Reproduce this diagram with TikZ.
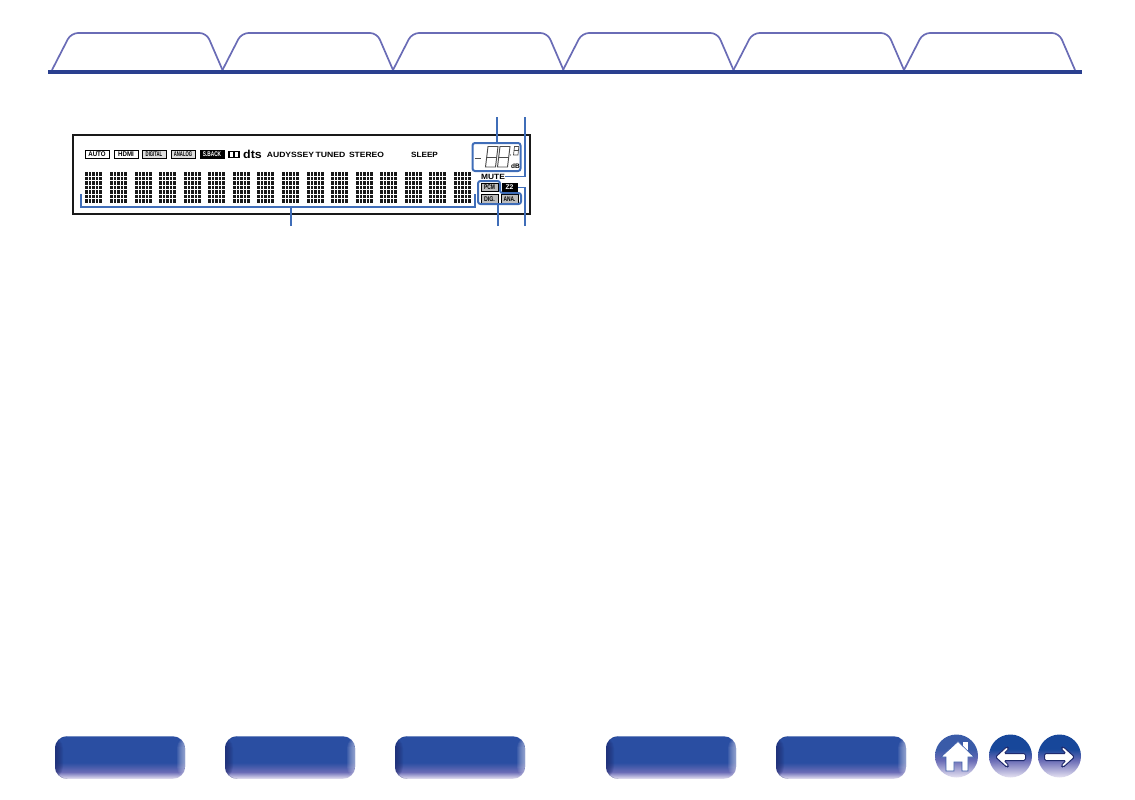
\documentclass[tikz,border=0pt]{standalone}
\usepackage{graphicx}
\usepackage{fontspec}
\setmainfont{Liberation Sans}
\usetikzlibrary{calc}
\definecolor{tabline}{HTML}{6A6CB6}
\definecolor{tabbar}{HTML}{2A3F8F}
\definecolor{callout}{HTML}{3F6DB8}
\definecolor{lcdgray}{HTML}{BDBDBD}
\definecolor{btnmid}{HTML}{2A4EA2}
\definecolor{btndark}{HTML}{1F2A6E}
\definecolor{btnlight}{HTML}{E6E2F2}
\definecolor{homeblue}{HTML}{3A5BA8}
\definecolor{roundblue}{HTML}{17479A}
\pgfdeclareverticalshading{btnshade}{100bp}{color(0bp)=(btnlight); color(25bp)=(btnlight); color(33bp)=(tabline); color(44bp)=(btnmid); color(75bp)=(btnmid); color(100bp)=(btnmid)}
\pgfdeclareverticalshading{homeshade}{100bp}{color(0bp)=(btnlight); color(25bp)=(btnlight); color(45bp)=(tabline); color(58bp)=(homeblue); color(75bp)=(homeblue); color(100bp)=(homeblue)}
\pgfdeclareverticalshading{roundshade}{100bp}{color(0bp)=(btnlight); color(25bp)=(btnlight); color(45bp)=(tabline); color(58bp)=(roundblue); color(75bp)=(roundblue); color(100bp)=(roundblue)}
\newcommand{\squeezed}[2]{\scalebox{#1}[1]{#2}}
\tikzset{
  % line styles
  tabedge/.style={draw=tabline,line width=1.7pt,line join=round},
  lead/.style={draw=callout,line width=1.7pt},
  leadbox/.style={lead,line width=2pt,rounded corners=2.5pt},
  segment/.style={draw=black!70,line width=0.95pt},
  % node styles
  lcdtext/.style={inner sep=0pt,font=\fontsize{7.6}{8}\bfseries\selectfont},
  tag/.style={draw=black,line width=1pt,inner sep=0pt,minimum width=24pt,minimum height=8pt,font=\fontsize{6.8}{7}\bfseries\selectfont},
  solidtag/.style={tag,fill=black,text=white},
  graytag/.style={tag,fill=lcdgray,minimum width=17pt,minimum height=8.5pt},
  pagebtn/.style={shape=rectangle,rounded corners=12pt,minimum width=130pt,minimum height=42.5pt,inner sep=0pt,shading=btnshade,
    path picture={
      \foreach \w in {1,...,8}{
        \fill[btndark,opacity=0.14] (path picture bounding box.south west) rectangle ($(path picture bounding box.north west)+(\w pt,0)$);
        \fill[btnlight,opacity=0.09] (path picture bounding box.south east) rectangle ($(path picture bounding box.north east)+(-\w pt,0)$);
      }
    }},
  homebtn/.style={circle,minimum size=43pt,inner sep=0pt,shading=homeshade},
  roundbtn/.style={circle,minimum size=43pt,inner sep=0pt,shading=roundshade},
  navarrow/.style={fill=white,draw=btndark,line width=1pt,rounded corners=1.5pt},
}
\begin{document}
\begin{tikzpicture}[x=1pt,y=-1pt]
        \useasboundingbox (0,0) rectangle (1135,800);
        % Tabs
        \foreach \tabx in {52,222.5,393,563,733.5}{
            \draw[tabedge,rounded corners=7pt] (\tabx,70) -- (\tabx+19,33) -- (\tabx+154.5,33) -- (\tabx+170.5,70);
        }
        \draw[tabedge,rounded corners=7pt] (904,70) -- (923,33) -- (1059,33) -- (1075,70);
        \fill[tabbar] (48,70) rectangle (1082,74);
        % Display frame
        \draw[black!90,line width=2pt] (525,135) -- (73,135) -- (73,214) -- (529.5,214) -- (529.5,135) -- (525,135);
        % Upper indicators
        \node(auto)[tag] at(97,154.5){\squeezed{0.9}{AUTO}};
        \node(hdmi)[tag] at(126,154.5){\squeezed{0.9}{HDMI}};
        \node(digital)[tag,fill=lcdgray!50] at(154,154.5){\squeezed{0.62}{DIGITAL}};
        \node(analog)[tag,fill=lcdgray!50] at(183,154.5){\squeezed{0.62}{ANALOG}};
        \node(sback)[solidtag] at(212,154.5){\squeezed{0.7}{S.BACK}};
        \node(dolby)[draw=black,line width=1.4pt,inner sep=0pt,minimum width=10pt,minimum height=6pt] at(234,154.5){};
        \draw[black,line width=1.4pt] (dolby.north) -- (dolby.south);
        \node(dts)[lcdtext,font=\fontsize{11.5}{12}\bfseries\selectfont] at(252.5,154){\squeezed{1.08}{dts}};
        \node(audyssey)[lcdtext] at(290.5,155){\squeezed{1.13}{AUDYSSEY}};
        \node(tuned)[lcdtext] at(330.5,155){\squeezed{1.14}{TUNED}};
        \node(stereo)[lcdtext] at(366.5,155){\squeezed{1.12}{STEREO}};
        \node(sleep)[lcdtext] at(424.5,155){\squeezed{1.08}{SLEEP}};
        % Dot matrix characters
        \foreach \charx in {85,110,135,159,184,208,233,257,282,307,331,356,380,405,429,454}{
            \foreach \i in {0,...,4}{
                \foreach \j in {0,...,6}{
                    \fill[black!90] (\charx+\i*3.55,172.2+\j*4.5) rectangle +(2.7,3.5);
                }
            }
        }
        % Level display
        \node(level)[leadbox,minimum width=48pt,minimum height=28pt,inner sep=0pt] at(496.5,157){};
        \draw[segment,line width=1.2pt] (474.5,158.5) -- (481,158.5);
        \foreach \digx in {0,12}{
            \draw[segment] (488+\digx,146.5) -- (498+\digx,146.5) -- (495.5+\digx,167) -- (485.5+\digx,167) -- cycle;
            \draw[segment] (486.8+\digx,157) -- (496.8+\digx,157);
        }
        \draw[segment,line width=0.7pt] (514.5,146.5) -- (518.8,146.5) -- (518,155) -- (513.5,155) -- cycle;
        \draw[segment,line width=0.7pt] (514,150.7) -- (518.4,150.7);
        \fill[black!75] (510.5,155) circle (0.7pt);
        \node(db)[lcdtext,font=\fontsize{6.5}{7}\bfseries\selectfont] at(515.5,166.5){dB};
        \node(mute)[lcdtext] at(493,176.5){\squeezed{1.1}{MUTE}};
        % Signal indicators
        \node(pcm)[graytag] at(489.5,187.5){\squeezed{0.72}{PCM}};
        \node(ztwo)[solidtag,minimum width=15pt,minimum height=8.5pt] at(509.5,187.5){Z2};
        \node(dig)[graytag] at(489.5,199){\squeezed{0.78}{DIG.}};
        \node(ana)[graytag] at(509.5,199){\squeezed{0.72}{ANA.}};
        \draw[leadbox] (478,181) -- (500,181) -- (500,193) -- (521,193) -- (521,204) -- (478,204) -- cycle;
        % Callouts
        \coordinate(c1) at(497,117);
        \coordinate(c2) at(525,117);
        \coordinate(c3) at(291,226);
        \coordinate(c4) at(498,226);
        \coordinate(c5) at(525,226);
        \coordinate(sig) at(498,204);
        \draw[lead] (c1) -- (level.north -| c1);
        \draw[lead] (c2) |- (mute.east);
        \draw[lead] (81,194) -- (81,207) -- (475,207) -- (475,194);
        \draw[lead] (c3) -- (291,207);
        \draw[lead] (c4) -- (sig);
        \draw[lead] (c5) |- (ztwo.east);
        % Page buttons
        \node(btnA)[pagebtn] at(120,757.5){};
        \node(btnB)[pagebtn] at(290,757.5){};
        \node(btnC)[pagebtn] at(460,757.5){};
        \node(btnD)[pagebtn] at(671,757.5){};
        \node(btnE)[pagebtn] at(841,757.5){};
        % Home and arrows
        \node(home)[homebtn] at(956.5,756){};
        \fill[white] (963,742) rectangle (968,750);
        \fill[white,draw=homeblue,line width=0.6pt] (941,757) -- (958,741.5) -- (974,757) -- (968,757) -- (968,771) -- (962,771) -- (962,762) -- (954,762) -- (954,771) -- (946,771) -- (946,757) -- cycle;
        \node(back)[roundbtn] at(1010.5,756){};
        \draw[navarrow] (995.5,757) -- (1007,746.5) -- (1009,748.5) -- (1004,753.5) -- (1025.5,753.5) -- (1025.5,760.5) -- (1004,760.5) -- (1009,765.5) -- (1007,767.5) -- cycle;
        \node(forward)[roundbtn] at(1059.5,756){};
        \draw[navarrow] (1074.5,757) -- (1063,746.5) -- (1061,748.5) -- (1066,753.5) -- (1044.5,753.5) -- (1044.5,760.5) -- (1066,760.5) -- (1061,765.5) -- (1063,767.5) -- cycle;
\end{tikzpicture}
\end{document}
